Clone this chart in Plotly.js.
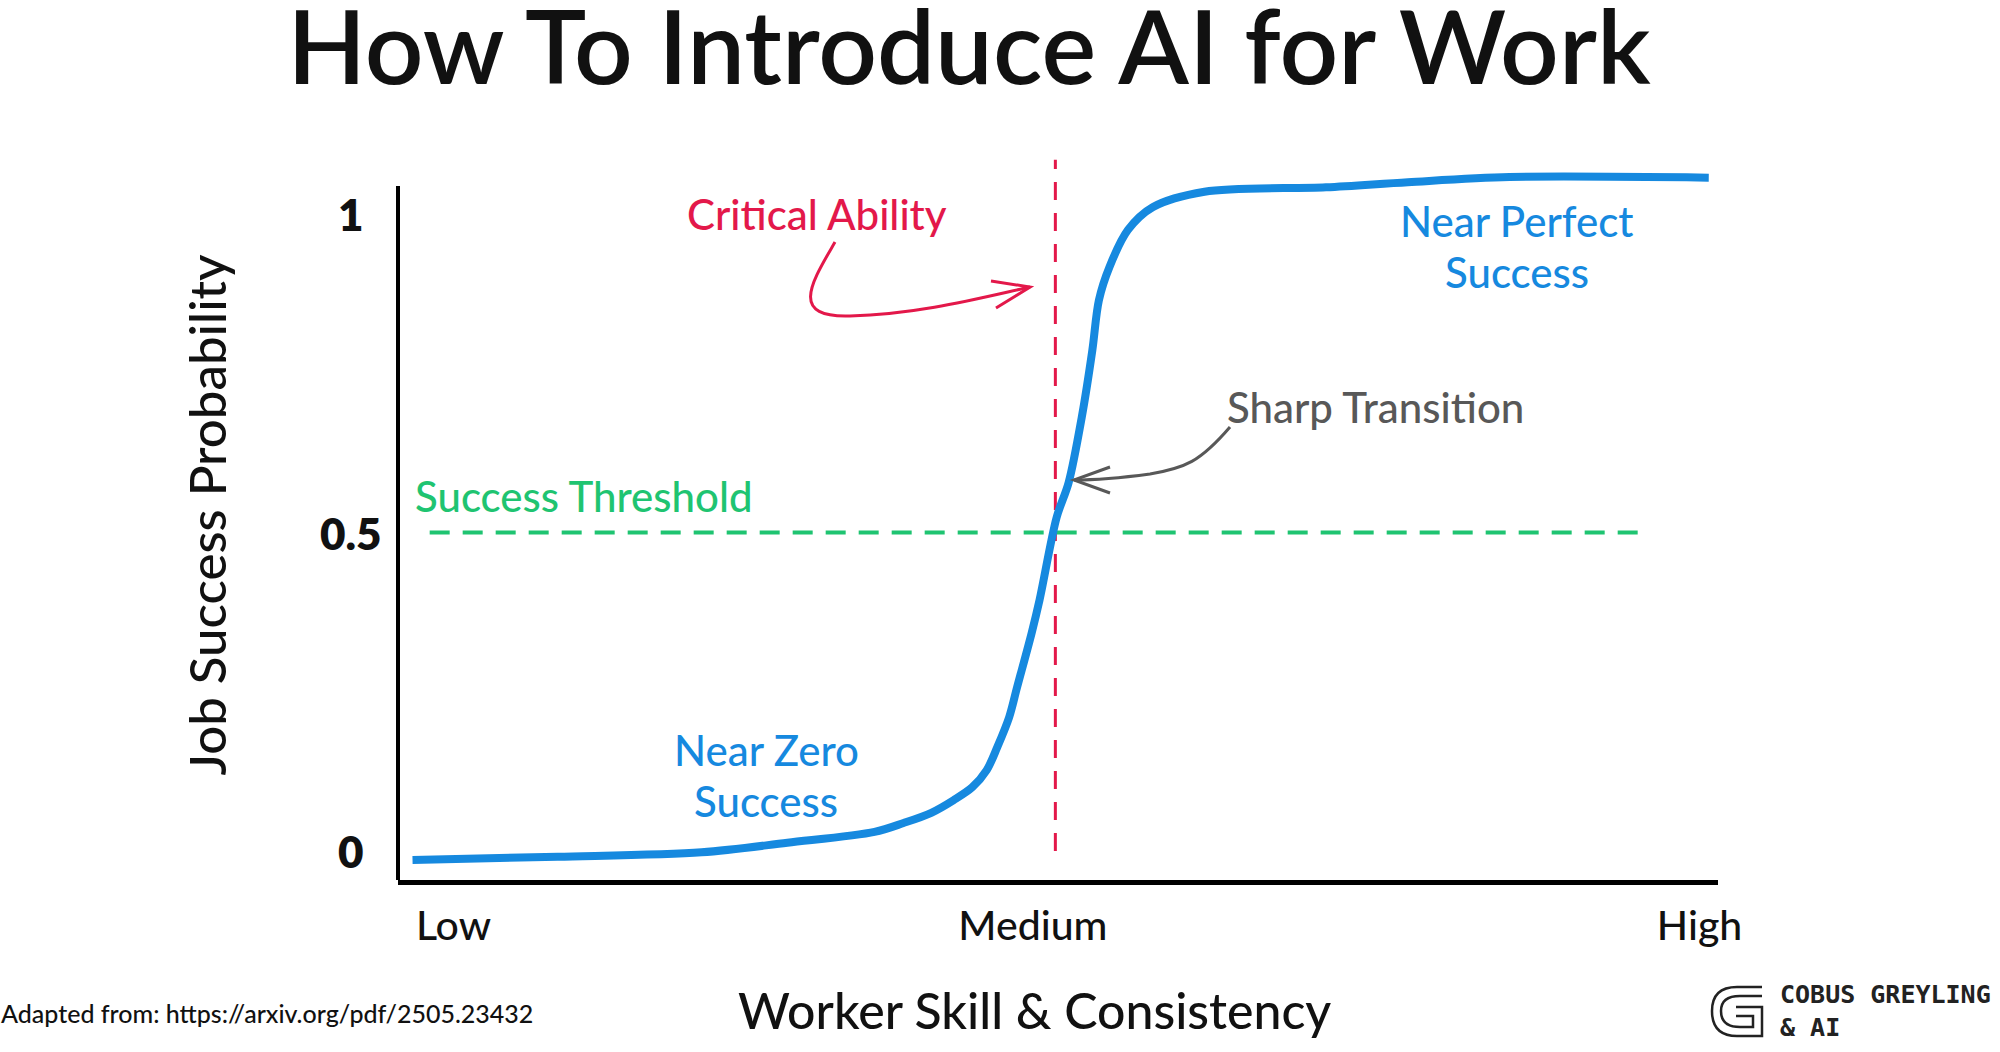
<!DOCTYPE html>
<html>
<head>
<meta charset="utf-8">
<script src="https://cdn.plot.ly/plotly-3.0.1.min.js"></script>
<style>html,body{margin:0;padding:0;background:#fff;}#chart{width:2000px;height:1052px;}</style>
</head>
<body>
<div id="chart"></div>
<script>
// ---------- data ----------
const skillX   = [1.1, 12.1, 23.0, 29.5, 36.1, 38.3, 40.4, 42.1, 43.5, 44.6, 45.4, 46.3, 46.9, 48.0, 48.6, 49.9, 50.8, 51.8, 52.6, 53.1, 53.9, 55.3, 57.2, 61.1, 70.3, 76.5, 84.2, 99.3];
const successY = [-0.014, -0.009, -0.002, 0.013, 0.030, 0.044, 0.060, 0.080, 0.100, 0.127, 0.163, 0.210, 0.257, 0.342, 0.394, 0.524, 0.578, 0.681, 0.786, 0.865, 0.917, 0.975, 1.011, 1.035, 1.042, 1.050, 1.058, 1.057];
const criticalAbilityX = [49.8, 49.8];
const criticalAbilityY = [0, 1.085];
const thresholdX = [2.4, 94.3];
const thresholdY = [0.5, 0.5];
const xTickVals = [4.2, 48.1, 98.6];
const xTickText = ['Low', 'Medium', 'High'];
const yTickVals = [0, 0.5, 1];
const yTickText = ['0', '0.5', '1'];

// ---------- style ----------
const BLUE = '#1689DF', RED = '#E3184A', GREEN = '#1FC471', GRAY = '#585858', INK = '#111111';
const FONT = 'Lato, "Noto Sans", sans-serif';

// plot area geometry (pixels) used for decorative drawings
const L = 398, R = 1718, T = 150, B = 880;
const yMin = -0.0455, yMax = 1.1005;
const X = p => (p - L) / (R - L) * 100;                 // px -> x data
const Y = p => yMax - (p - T) / (B - T) * (yMax - yMin); // px -> y data
const PX = p => (p - L) / (R - L);                      // px -> paper x
const PY = p => (B - p) / (B - T);                      // px -> paper y

function pathData(cmds) {
  return cmds.map(c => c[0] + ' ' + c.slice(1).map((v, i) => i % 2 === 0 ? X(v) : Y(v)).join(' ')).join(' ');
}
function pathPaper(cmds) {
  return cmds.map(c => c[0] + ' ' + c.slice(1).map((v, i) => i % 2 === 0 ? PX(v) : PY(v)).join(' ')).join(' ');
}

const redArrow = [['M', 835, 242], ['C', 812, 282, 788, 318, 850, 316], ['C', 920, 314, 980, 298, 1030, 287]];
const redHead  = [['M', 991, 281], ['L', 1030, 287], ['L', 996, 308]];
const grayArrow = [['M', 1230, 427], ['C', 1200, 462, 1185, 468, 1150, 474], ['C', 1120, 478, 1095, 480, 1074, 480]];
const grayHead  = [['M', 1110, 467], ['L', 1074, 480], ['L', 1110, 493]];
const logoOuter = [['M', 1762, 987], ['L', 1737, 987], ['Q', 1712, 987, 1712, 1011], ['Q', 1712, 1036, 1737, 1036], ['L', 1762, 1036], ['L', 1762, 1007], ['L', 1736, 1007]];
const logoInner = [['M', 1762, 996], ['L', 1740, 996], ['Q', 1721, 996, 1721, 1011], ['Q', 1721, 1027, 1740, 1027], ['L', 1753, 1027], ['L', 1753, 1016], ['L', 1736, 1016]];

const traces = [
  { x: thresholdX, y: thresholdY, mode: 'lines', line: { color: GREEN, width: 4, dash: '20px,13px' }, hoverinfo: 'skip' },
  { x: criticalAbilityX, y: criticalAbilityY, mode: 'lines', line: { color: RED, width: 3, dash: '18px,13px' }, hoverinfo: 'skip' },
  { x: skillX, y: successY, mode: 'lines', line: { color: BLUE, width: 8, shape: 'spline', smoothing: 0.9 }, hoverinfo: 'skip' }
];

const ann = (text, x, y, color, size, extra) => Object.assign({
  text: text, x: x, y: y, xref: 'x', yref: 'y', showarrow: false,
  font: { family: FONT, size: size, color: color, weight: 500 }, xanchor: 'center', yanchor: 'middle'
}, extra || {});

// y tick labels, centred in their column as in the original
const yTickAnnotations = yTickVals.map((v, i) => ({
  text: yTickText[i], x: PX(351), y: v, xref: 'paper', yref: 'y', showarrow: false,
  xanchor: 'center', yanchor: 'middle',
  font: { family: FONT, size: 44, color: INK, weight: 800 }
}));

const layout = {
  width: 2000, height: 1052,
  margin: { l: L, r: 2000 - R, t: T, b: 1052 - B },
  paper_bgcolor: '#ffffff', plot_bgcolor: '#ffffff',
  showlegend: false,
  title: {
    text: 'How To Introduce AI for Work',
    font: { family: FONT, size: 103, color: INK, weight: 600 },
    xref: 'container', yref: 'container', x: 0.4845, xanchor: 'center', y: 0.954, yanchor: 'middle'
  },
  xaxis: {
    range: [0, 100], showgrid: false, zeroline: false,
    showline: true, linecolor: '#000', linewidth: 5,
    tickvals: xTickVals, ticktext: xTickText, ticks: '',
    tickfont: { family: FONT, size: 41, color: INK, weight: 500 }, ticklabelstandoff: 6,
    fixedrange: true
  },
  yaxis: {
    range: [yMin, yMax], showgrid: false, zeroline: false, showline: false,
    tickvals: yTickVals, showticklabels: false, ticks: '',
    title: { text: 'Job Success Probability', font: { family: FONT, size: 51, color: INK, weight: 500 }, standoff: 154 },
    fixedrange: true
  },
  shapes: [
    { type: 'line', xref: 'paper', yref: 'y', x0: 0, x1: 0, y0: Y(882), y1: Y(186), line: { color: '#000', width: 4 } },
    { type: 'path', xref: 'x', yref: 'y', path: pathData(redArrow), line: { color: RED, width: 3 } },
    { type: 'path', xref: 'x', yref: 'y', path: pathData(redHead), line: { color: RED, width: 3 } },
    { type: 'path', xref: 'x', yref: 'y', path: pathData(grayArrow), line: { color: GRAY, width: 3 } },
    { type: 'path', xref: 'x', yref: 'y', path: pathData(grayHead), line: { color: GRAY, width: 3 } },
    { type: 'path', xref: 'paper', yref: 'paper', path: pathPaper(logoOuter), line: { color: '#222', width: 2.5 } },
    { type: 'path', xref: 'paper', yref: 'paper', path: pathPaper(logoInner), line: { color: '#222', width: 2.5 } }
  ],
  annotations: yTickAnnotations.concat([
    ann('Critical Ability', X(817), Y(214), RED, 42),
    ann('Near Perfect', X(1517), Y(221), BLUE, 42),
    ann('Success', X(1517), Y(272), BLUE, 42),
    ann('Sharp Transition', X(1375), Y(407), GRAY, 42),
    ann('Success Threshold', X(584), Y(496), GREEN, 42),
    ann('Near Zero', X(766), Y(750), BLUE, 42),
    ann('Success', X(766), Y(801), BLUE, 42),
    { text: 'Worker Skill &amp; Consistency', xref: 'paper', yref: 'paper', x: PX(1034), y: PY(1010),
      xanchor: 'center', yanchor: 'middle', showarrow: false, font: { family: FONT, size: 50, color: INK, weight: 500 } },
    { text: 'Adapted from: https://arxiv.org/pdf/2505.23432', xref: 'paper', yref: 'paper', x: PX(-1), y: PY(1013),
      xanchor: 'left', yanchor: 'middle', showarrow: false, font: { family: FONT, size: 25, color: INK, weight: 500 } },
    { text: 'COBUS GREYLING<br>&amp; AI', xref: 'paper', yref: 'paper', x: PX(1778), y: PY(1011),
      xanchor: 'left', yanchor: 'middle', align: 'left', showarrow: false,
      font: { family: '"DejaVu Sans Mono", monospace', size: 25, color: '#222', weight: 'bold' } }
  ])
};

Plotly.newPlot('chart', traces, layout, { displayModeBar: false, staticPlot: true });
</script>
</body>
</html>
